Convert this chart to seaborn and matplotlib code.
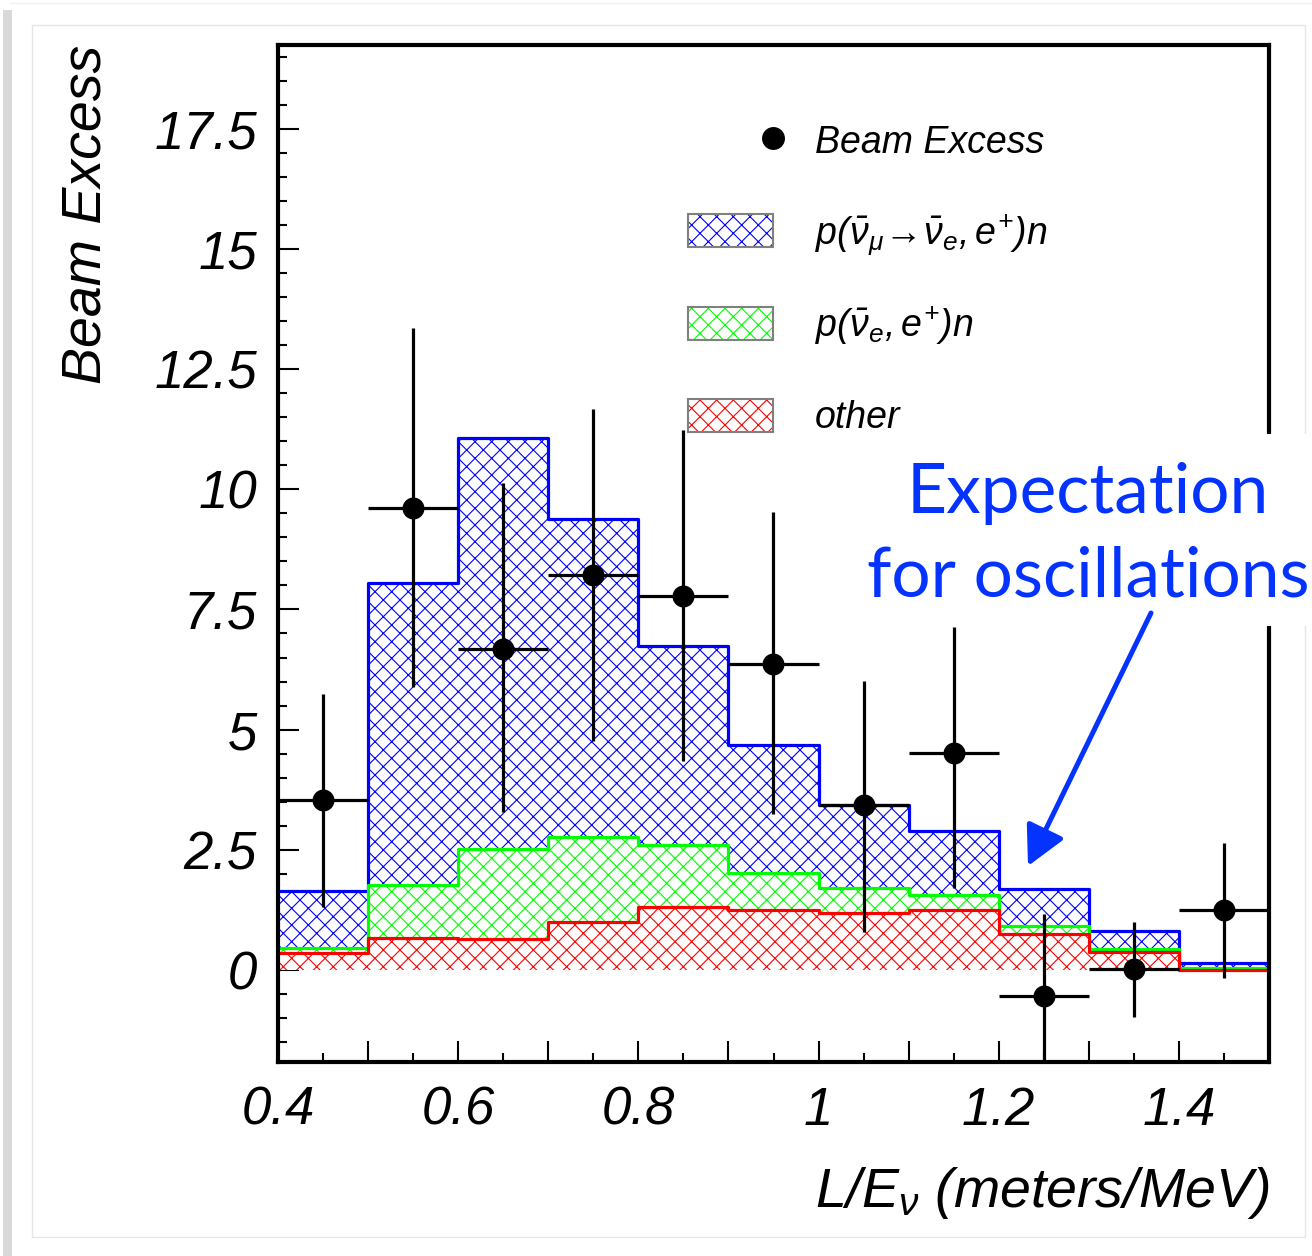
import numpy as np
import matplotlib
matplotlib.use("Agg")
import matplotlib.pyplot as plt
import seaborn as sns
from matplotlib.patches import Rectangle, FancyArrowPatch
from matplotlib.ticker import MultipleLocator, FuncFormatter

# ---------------- data ----------------
bin_edges = [0.4, 0.5, 0.6, 0.7, 0.8, 0.9, 1.0, 1.1, 1.2, 1.3, 1.4, 1.5]
bin_centers = [0.45, 0.55, 0.65, 0.75, 0.85, 0.95, 1.05, 1.15, 1.25, 1.35, 1.45]

# stacked histogram tops
osc_total_top = [1.63, 8.06, 11.07, 9.39, 6.73, 4.67, 3.44, 2.88, 1.68, 0.81, 0.14]   # p(nubar_mu -> nubar_e, e+)n  (blue)
nue_bkg_top = [0.46, 1.77, 2.51, 2.77, 2.60, 2.01, 1.70, 1.56, 0.92, 0.44, 0.03]      # p(nubar_e, e+)n (green)
other_top = [0.34, 0.66, 0.64, 0.99, 1.30, 1.25, 1.19, 1.24, 0.74, 0.36, 0.00]        # other (red)

# beam excess data points with error bar ends
beam_excess = [3.54, 9.61, 6.68, 8.21, 7.79, 6.37, 3.42, 4.52, -0.54, 0.01, 1.24]
excess_upper = [5.74, 13.35, 10.13, 11.68, 11.23, 9.53, 6.02, 7.13, 1.17, 1.00, 2.63]
excess_lower = [1.30, 5.88, 3.28, 4.77, 4.35, 3.24, 0.78, 1.70, -2.30, -0.99, -0.18]

legend_labels = ["Beam Excess",
                 r"$p(\bar{\nu}_{\mu}\!\rightarrow\!\bar{\nu}_{e},e^{+})n$",
                 r"$p(\bar{\nu}_{e},e^{+})n$",
                 "other"]
hist_colors = ["#0000ff", "#00ff00", "#ff0000"]
annot_color = "#0433ff"

# ---------------- style ----------------
sns.set_theme(style="white")
plt.rcParams.update({
    "font.family": ["Liberation Sans", "DejaVu Sans"],
    "font.style": "italic",
    "mathtext.fontset": "custom",
    "mathtext.it": "Liberation Sans:italic",
    "mathtext.rm": "Liberation Sans:italic",
    "mathtext.sf": "Liberation Sans:italic",
    "hatch.linewidth": 0.8,
    "text.color": "black",
    "axes.labelcolor": "black",
    "xtick.color": "black",
    "ytick.color": "black",
    "xtick.labelcolor": "black",
    "ytick.labelcolor": "black",
})

W, H = 1312, 1256
fig = plt.figure(figsize=(W / 100, H / 100), dpi=100)
fig.patch.set_facecolor("white")
ax = fig.add_axes([278 / W, 1 - 1062 / H, (1269 - 278) / W, (1062 - 45) / H])
ax.set_facecolor("white")

# ---------------- stacked hatched histograms ----------------
z = 1.0
for vals, col in zip([osc_total_top, nue_bkg_top, other_top], hist_colors):
    sns.histplot(x=bin_centers, weights=vals, bins=bin_edges, element="step",
                 fill=True, facecolor="white", edgecolor=col, linewidth=0,
                 hatch="xx", ax=ax, zorder=z)
    sns.histplot(x=bin_centers, weights=vals, bins=bin_edges, element="step",
                 fill=False, color=col, linewidth=2.3, ax=ax, zorder=z + 0.05)
    z += 0.1

# ---------------- data points ----------------
bc = np.array(bin_centers)
ex = np.array(beam_excess)
yerr = [ex - np.array(excess_lower), np.array(excess_upper) - ex]
ax.errorbar(bc, ex, yerr=yerr, xerr=0.05, fmt="none", ecolor="black",
            elinewidth=2.3, capsize=0, zorder=3)
sns.scatterplot(x=bin_centers, y=beam_excess, color="black", s=250,
                linewidth=0, ax=ax, zorder=4, legend=False)

# ---------------- axes ----------------
ax.set_xlim(0.4, 1.5)
ax.set_ylim(-1.92, 19.25)
ax.set_xlabel("")
ax.set_ylabel("")
ax.xaxis.set_major_locator(MultipleLocator(0.1))
ax.xaxis.set_minor_locator(MultipleLocator(0.05))
ax.yaxis.set_major_locator(MultipleLocator(2.5))
ax.yaxis.set_minor_locator(MultipleLocator(0.5))


def xfmt(v, pos):
    v = round(v, 3)
    if int(round(v * 10)) % 2 == 0:
        return f"{v:g}"
    return ""


ax.xaxis.set_major_formatter(FuncFormatter(xfmt))
ax.yaxis.set_major_formatter(FuncFormatter(lambda v, p: f"{round(v, 3):g}"))
ax.tick_params(axis="both", which="both", direction="in", top=False, right=False,
               left=True, bottom=True, color="black", labelcolor="black", width=1.5)
ax.tick_params(axis="both", which="major", length=15, labelsize=38)
ax.tick_params(axis="both", which="minor", length=6.5)
ax.tick_params(axis="y", which="major", pad=15)
ax.tick_params(axis="x", which="major", pad=17)
for sp in ax.spines.values():
    sp.set_visible(True)
    sp.set_color("black")
    sp.set_linewidth(3)

ax.text(-0.1937, 1.0, "Beam Excess", rotation=90, ha="center", va="top",
        fontsize=40, color="black", transform=ax.transAxes)
ax.text(1.0, -0.1426, r"$L/E_{\nu}$ (meters/MeV)", ha="right", va="baseline",
        fontsize=40, color="black", transform=ax.transAxes)

# ---------------- legend (manual, axes fraction) ----------------
lx0, lx1 = 0.4137, 0.4995
ax.plot([lx1], [0.9086], "o", color="black", ms=15.5, transform=ax.transAxes,
        clip_on=False, zorder=5)
box_y = [(0.8017, 0.8335), (0.7099, 0.7427), (0.6198, 0.6519)]
for (y0, y1), col in zip(box_y, hist_colors):
    ax.add_patch(Rectangle((lx0, y0), lx1 - lx0, y1 - y0, transform=ax.transAxes,
                           facecolor="white", edgecolor=col, linewidth=0,
                           hatch="xx", zorder=5))
    ax.add_patch(Rectangle((lx0, y0), lx1 - lx0, y1 - y0, transform=ax.transAxes,
                           facecolor="none", edgecolor="#808080", linewidth=1.5,
                           zorder=5.1))
text_base = [0.8935, 0.8033, 0.7126, 0.6231]
for lab, yb in zip(legend_labels, text_base):
    ax.text(0.5419, yb, lab, fontsize=27, ha="left", va="baseline", color="black",
            transform=ax.transAxes, zorder=6)

# ---------------- annotation ----------------
fig.add_artist(Rectangle((862 / W, 1 - 626 / H), 460 / W, 192 / H,
                         transform=fig.transFigure, facecolor="white",
                         edgecolor="none", zorder=5))
fig.text(1088 / W, 1 - 513 / H, "Expectation", ha="center", va="baseline",
         fontsize=50, color=annot_color, family="Lato", style="normal", zorder=6)
fig.text(1088 / W, 1 - 597 / H, "for oscillations", ha="center", va="baseline",
         fontsize=50, color=annot_color, family="Lato", style="normal", zorder=6)
arrow = FancyArrowPatch((1151 / W, 1 - 613 / H), (1028 / W, 1 - 866 / H),
                        transform=fig.transFigure,
                        arrowstyle="-|>,head_length=24,head_width=12.5",
                        mutation_scale=1, linewidth=3.6, color=annot_color,
                        shrinkA=0, shrinkB=0, zorder=6)
fig.add_artist(arrow)

# ---------------- slide border decoration ----------------
fig.add_artist(Rectangle((3 / W, 0), 9 / W, 1 - 10 / H, transform=fig.transFigure,
                         facecolor="#d9d9d9", edgecolor="none", zorder=0.5))
fig.add_artist(Rectangle((32 / W, 1 - 1237 / H), (1305 - 32) / W, (1237 - 25) / H,
                         transform=fig.transFigure, facecolor="none",
                         edgecolor="#e6e6e6", linewidth=1, zorder=0.5))
fig.add_artist(plt.Line2D([10 / W, 1], [1 - 3 / H, 1 - 3 / H],
                          transform=fig.transFigure, color="#f0f0f0", linewidth=1))

fig.savefig("out.png", dpi=100, facecolor="white")
